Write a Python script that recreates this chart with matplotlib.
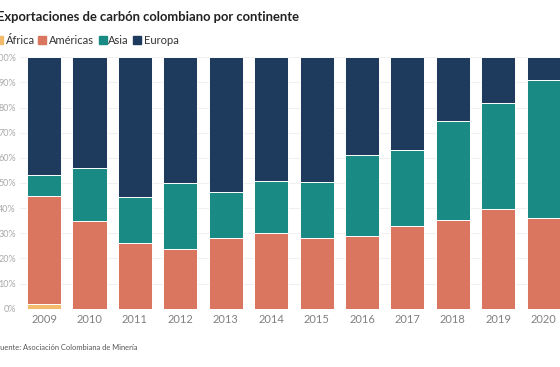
import numpy as np
import matplotlib
matplotlib.use('Agg')
import matplotlib.pyplot as plt

# data, share of exports in percent
years = ['2009', '2010', '2011', '2012', '2013', '2014', '2015', '2016', '2017', '2018', '2019', '2020']
africa = [2.0, 0, 0, 0, 0, 0, 0, 0, 0, 0, 0, 0]
americas = [43.0, 35.0, 26.3, 23.9, 28.1, 30.0, 28.3, 28.9, 32.9, 35.3, 39.8, 36.2]
asia = [8.0, 21.0, 18.1, 26.0, 18.3, 20.9, 22.1, 32.1, 30.3, 39.4, 42.2, 54.8]
ticks = [0, 10, 20, 30, 40, 50, 60, 70, 80, 90, 100]

series_names = ['África', 'Américas', 'Asia', 'Europa']
colors = ['#f3bb6b', '#da7660', '#1a8a84', '#1e3b5e']

W, H = 560, 367


def main():
    plt.rcParams['font.family'] = ['Lato', 'DejaVu Sans']
    europa = [100 - a - b - c for a, b, c in zip(africa, americas, asia)]

    fig = plt.figure(figsize=(W / 100, H / 100), dpi=100)
    ax = fig.add_axes([20 / W, 0.159, 1 - 20 / W, 0.685])

    x = np.arange(len(years))
    bottom = np.zeros(len(years))
    for vals, name, col in zip([africa, americas, asia, europa], series_names, colors):
        ax.bar(x, vals, width=0.75, bottom=bottom, color=col, edgecolor='white',
               linewidth=0.7, label=name, zorder=3)
        bottom += np.array(vals)

    ax.set_xlim(-0.53, 11.36)
    ax.set_ylim(0, 100)
    ax.set_yticks(ticks)
    ax.set_yticklabels([str(t) + '%' for t in ticks])
    ax.set_xticks(x)
    ax.set_xticklabels(years)
    ax.tick_params(axis='y', length=0, pad=3, labelsize=6.5, labelcolor='#aaaaaa')
    ax.tick_params(axis='x', length=0, pad=4, labelsize=8, labelcolor='#808080')
    ax.grid(axis='y', color='#eeeeee', linewidth=0.6, zorder=0)
    for s in ax.spines.values():
        s.set_visible(False)

    # title
    fig.text(-3 / W, 0.955, 'Exportaciones de carbón colombiano por continente',
             fontsize=9.4, fontweight='bold', color='#222222', va='center', ha='left')

    # legend, placed by pixel
    sq_x = [-5, 38, 99, 133]
    txt_x = [6, 49, 108, 144]
    for sx, tx, name, col in zip(sq_x, txt_x, series_names, colors):
        fig.patches.append(plt.Rectangle((sx / W, 1 - 44 / H), 7.5 / W, 7.5 / H, color=col,
                                         transform=fig.transFigure, figure=fig))
        fig.text(tx / W, 1 - 40 / H, name, fontsize=8, color='#333333', va='center', ha='left')

    fig.text(-4 / W, 1 - 347 / H, 'Fuente: Asociación Colombiana de Minería',
             fontsize=5.4, color='#555555', va='center', ha='left')

    fig.savefig('out.png', dpi=100)


if __name__ == '__main__':
    main()
